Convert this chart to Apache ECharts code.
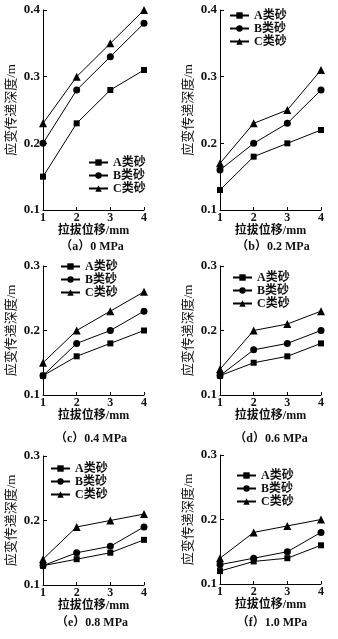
<!DOCTYPE html>
<html>
<head>
<meta charset="utf-8">
<script src="https://cdn.jsdelivr.net/npm/echarts@6/dist/echarts.min.js"></script>
<style>
html,body{margin:0;padding:0;background:#fff;}
#chart{width:338px;height:639px;}
</style>
</head>
<body>
<div id="chart"></div>
<script>
const xValues = [1, 2, 3, 4];
const seriesNames = ['A类砂', 'B类砂', 'C类砂'];
const captions = ['（a）0 MPa', '（b）0.2 MPa', '（c）0.4 MPa', '（d）0.6 MPa', '（e）0.8 MPa', '（f）1.0 MPa'];
const xAxisName = '拉拔位移/mm';
const yAxisName = '应变传递深度/m';
const yMaxes = [0.4, 0.4, 0.3, 0.3, 0.3, 0.3];

const sandA = [
  [0.15, 0.23, 0.28, 0.31],
  [0.13, 0.18, 0.20, 0.22],
  [0.13, 0.16, 0.18, 0.20],
  [0.13, 0.15, 0.16, 0.18],
  [0.13, 0.14, 0.15, 0.17],
  [0.12, 0.135, 0.14, 0.16]
];
const sandB = [
  [0.20, 0.28, 0.33, 0.38],
  [0.16, 0.20, 0.23, 0.28],
  [0.13, 0.18, 0.20, 0.23],
  [0.13, 0.17, 0.18, 0.20],
  [0.13, 0.15, 0.16, 0.19],
  [0.13, 0.14, 0.15, 0.18]
];
const sandC = [
  [0.23, 0.30, 0.35, 0.40],
  [0.17, 0.23, 0.25, 0.31],
  [0.15, 0.20, 0.23, 0.26],
  [0.14, 0.20, 0.21, 0.23],
  [0.14, 0.19, 0.20, 0.21],
  [0.14, 0.18, 0.19, 0.20]
];

const FONT = "'Liberation Serif', 'Noto Sans CJK SC', serif";
const grids = [
  {left: 43, top: 10, width: 101, height: 200},
  {left: 220, top: 10, width: 101, height: 200},
  {left: 43, top: 266, width: 101, height: 129},
  {left: 220, top: 266, width: 101, height: 129},
  {left: 43, top: 456, width: 101, height: 129},
  {left: 220, top: 455, width: 101, height: 129}
];
const legendPos = [
  {left: 88, top: 156},
  {left: 229, top: 9},
  {left: 60, top: 260},
  {left: 232, top: 271},
  {left: 50, top: 462},
  {left: 236, top: 469}
];
const captionPos = [
  {x: 92, y: 247}, {x: 273, y: 247},
  {x: 91, y: 439}, {x: 271, y: 439},
  {x: 92, y: 623}, {x: 272, y: 623}
];
const symbols = ['rect', 'circle', 'triangle'];
const symbolSizes = [6, 7, 8];
const allData = [sandA, sandB, sandC];

const option = {
  animation: false,
  backgroundColor: '#fff',
  grid: [], xAxis: [], yAxis: [], series: [], legend: [], graphic: []
};

for (let p = 0; p < 6; p++) {
  option.grid.push(Object.assign({containLabel: false}, grids[p]));
  option.xAxis.push({
    type: 'value', gridIndex: p, min: 1, max: 4, interval: 1,
    name: xAxisName, nameLocation: 'middle', nameGap: 12,
    nameTextStyle: {fontFamily: FONT, fontSize: 12, fontWeight: 'bold', color: '#111'},
    axisLine: {lineStyle: {color: '#000', width: 1}},
    axisTick: {inside: true, length: 3, lineStyle: {color: '#000'}},
    axisLabel: {fontFamily: FONT, fontSize: 12, fontWeight: 'bold', color: '#111', margin: 2},
    splitLine: {show: false}
  });
  option.yAxis.push({
    type: 'value', gridIndex: p, min: 0.1, max: yMaxes[p], interval: 0.1,
    name: yAxisName, nameLocation: 'middle', nameGap: 25, nameRotate: 90,
    nameTextStyle: {fontFamily: FONT, fontSize: 13, color: '#111'},
    axisLine: {show: true, lineStyle: {color: '#000', width: 1}},
    axisTick: {show: true, inside: true, length: 4, lineStyle: {color: '#000'}},
    axisLabel: {fontFamily: FONT, fontSize: 13, fontWeight: 'bold', color: '#111', margin: 3,
      formatter: v => v.toFixed(1)},
    splitLine: {show: false}
  });
  for (let s = 0; s < 3; s++) {
    option.series.push({
      name: seriesNames[s], type: 'line', xAxisIndex: p, yAxisIndex: p,
      data: xValues.map((x, i) => [x, allData[s][p][i]]),
      symbol: symbols[s], symbolSize: symbolSizes[s], showAllSymbol: true,
      lineStyle: {color: '#000', width: 1},
      itemStyle: {color: '#000'},
      clip: false
    });
  }
  option.legend.push({
    orient: 'vertical', left: legendPos[p].left, top: legendPos[p].top,
    data: seriesNames, itemWidth: 19, itemHeight: 8, itemGap: 0,
    padding: 0, selectedMode: false,
    textStyle: {fontFamily: FONT, fontSize: 12, fontWeight: 'bold', color: '#111', lineHeight: 13}
  });
  option.graphic.push({
    type: 'text', x: captionPos[p].x, y: captionPos[p].y,
    style: {text: captions[p], fontFamily: FONT, fontSize: 12, fontWeight: 'bold', fill: '#111',
      align: 'center', verticalAlign: 'middle'}
  });
}

const chart = echarts.init(document.getElementById('chart'), null, {renderer: 'canvas'});
chart.setOption(option);
</script>
</body>
</html>
